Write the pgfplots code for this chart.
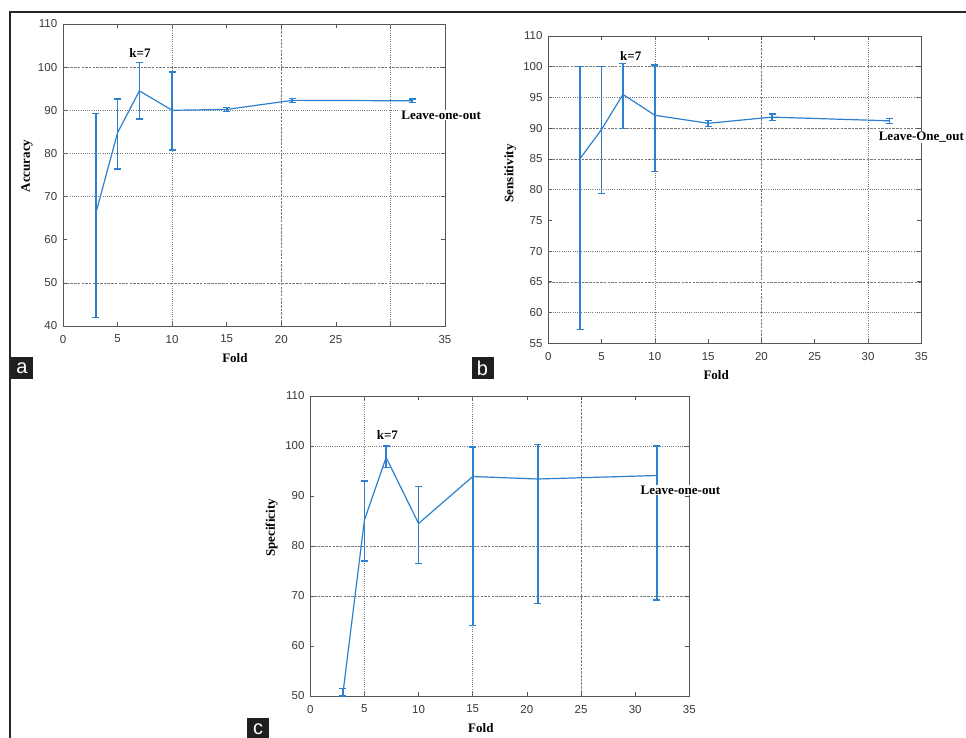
\documentclass[border=0pt]{standalone}
\usepackage{fontspec}
\setmainfont{Liberation Serif}
\newfontfamily\arial{Liberation Sans}
\usepackage{pgfplots}
\usepackage{pgfplotstable}
\pgfplotsset{compat=1.18}

\definecolor{lineblue}{RGB}{45,128,205}
\definecolor{axisgray}{RGB}{85,85,85}
\definecolor{gridgray}{RGB}{120,120,120}

% fold, mean, error up, error down
\pgfplotstableread{
x  y     ep    em
3  66.1  23.1  24.2
5  84.8  7.8   8.4
7  94.5  6.5   6.5
10 90.0  8.9   9.2
15 90.2  0.5   0.5
21 92.3  0.45  0.45
32 92.2  0.45  0.45
}\accdata

\pgfplotstableread{
x  y     ep    em
3  85.1  14.9  27.8
5  89.8  10.2  10.4
7  95.5  5.0   5.6
10 92.1  8.2   9.2
15 90.8  0.5   0.5
21 91.8  0.5   0.5
32 91.2  0.4   0.4
}\sensdata

\pgfplotstableread{
x  y     ep    em
3  50.3  1.2   0.3
5  85.2  7.8   8.2
7  97.7  2.3   2.0
10 84.5  7.4   8.0
15 93.9  5.9   29.8
21 93.4  6.9   24.9
32 94.1  5.9   24.9
}\specdata

\pgfplotsset{
  panel/.style={
    scale only axis, clip=false,
    xmin=0, xmax=35, xtick={0,5,...,35},
    tick align=inside, major tick length=4pt, minor tick length=0pt,
    axis line style={axisgray, line width=0.9pt},
    tick style={axisgray, line width=0.7pt},
    tick label style={font=\arial\fontsize{11.5}{11.5}\selectfont, text=black!78},
    /pgf/number format/assume math mode=true,
    xticklabel style={yshift=-5.5pt},
    yticklabel style={xshift=-2.3pt},
    label style={font=\bfseries\fontsize{13}{13}\selectfont},
    xlabel={Fold},
    xlabel style={at={(axis description cs:0.45,0)}, anchor=center, yshift=-32pt},
    xminorgrids=true, yminorgrids=true,
    minor grid style={gridgray, line width=0.6pt, dash pattern=on 2.5pt off 1.2pt},
    extra tick style={grid=major, major tick length=0pt},
    major grid style={gridgray, line width=0.6pt, dash pattern=on 0.8pt off 1.4pt},
    extra x tick labels={}, extra y tick labels={},
  },
  meanline/.style={lineblue, line width=1.2pt, mark=none,
    error bars/.cd, y dir=both, y explicit,
    error bar style={lineblue, line width=1.6pt},
    error mark options={lineblue, line width=1.3pt, mark size=3.5pt, rotate=90}},
}
\tikzset{
  note/.style={font=\bfseries\fontsize{13}{13}\selectfont, fill=white, inner sep=1pt},
  tag/.style={fill=black!88, text=white, font=\arial\fontsize{20}{20}\selectfont,
    minimum width=22pt, minimum height=22pt, inner sep=0pt},
}

\begin{document}
\begin{tikzpicture}
\useasboundingbox (0,0) rectangle (966pt,-738pt);
\draw[black!85, line width=1.3pt] (10pt,-738pt) -- (10pt,-12pt) -- (966pt,-12pt);

% (a) Accuracy
\begin{axis}[panel, at={(63pt,-24pt)}, anchor=north west,
    width=382pt, height=302pt,
    ymin=40, ymax=110, ytick={40,50,...,110},
    xticklabels={0,5,10,15,20,25,,35},
    ylabel={Accuracy},
    ylabel style={at={(axis description cs:0,0.53)}, anchor=center, yshift=36pt},
    minor xtick={20}, minor ytick={50,100},
    extra x ticks={10,30}, extra y ticks={70,80,90}]
\addplot[meanline] table[x=x, y=y, y error plus=ep, y error minus=em] {\accdata};
\node[note] at (axis cs:7.05,103.2) {k=7};
\node[note, anchor=west] at (axis cs:30.9,88.9) {Leave-one-out};
\end{axis}

% (b) Sensitivity
\begin{axis}[panel, at={(548.3pt,-36pt)}, anchor=north west,
    width=373pt, height=307.3pt,
    ymin=55, ymax=105, ytick={55,60,...,105},
    yticklabels={55,60,65,70,75,80,85,90,95,100,110},
    ylabel={Sensitivity},
    ylabel style={at={(axis description cs:0,0.553)}, anchor=center, yshift=38pt},
    minor xtick={20}, minor ytick={65,85,90,100},
    extra x ticks={10,30}, extra y ticks={60,70,80,95}]
\addplot[meanline] table[x=x, y=y, y error plus=ep, y error minus=em] {\sensdata};
\node[note] at (axis cs:7.74,101.8) {k=7};
\node[note, anchor=west] at (axis cs:30.9,88.6) {Leave-One\_out};
\end{axis}

% (c) Specificity
\begin{axis}[panel, at={(310.3pt,-396pt)}, anchor=north west,
    width=379pt, height=300pt,
    ymin=50, ymax=110, ytick={50,60,...,110},
    ylabel={Specificity},
    ylabel style={at={(axis description cs:0,0.56)}, anchor=center, yshift=38.5pt},
    minor xtick={25}, minor ytick={70,80},
    extra x ticks={5,15}, extra y ticks={100}]
\addplot[meanline] table[x=x, y=y, y error plus=ep, y error minus=em] {\specdata};
\node[note] at (axis cs:7.12,102.3) {k=7};
\node[note, anchor=west] at (axis cs:30.4,91.2) {Leave-one-out};
\end{axis}

\node[tag] at (22pt,-368pt) {a};
\node[tag] at (482.5pt,-368pt) {b};
\node[tag] at (258pt,-729pt) {c};
\end{tikzpicture}
\end{document}
